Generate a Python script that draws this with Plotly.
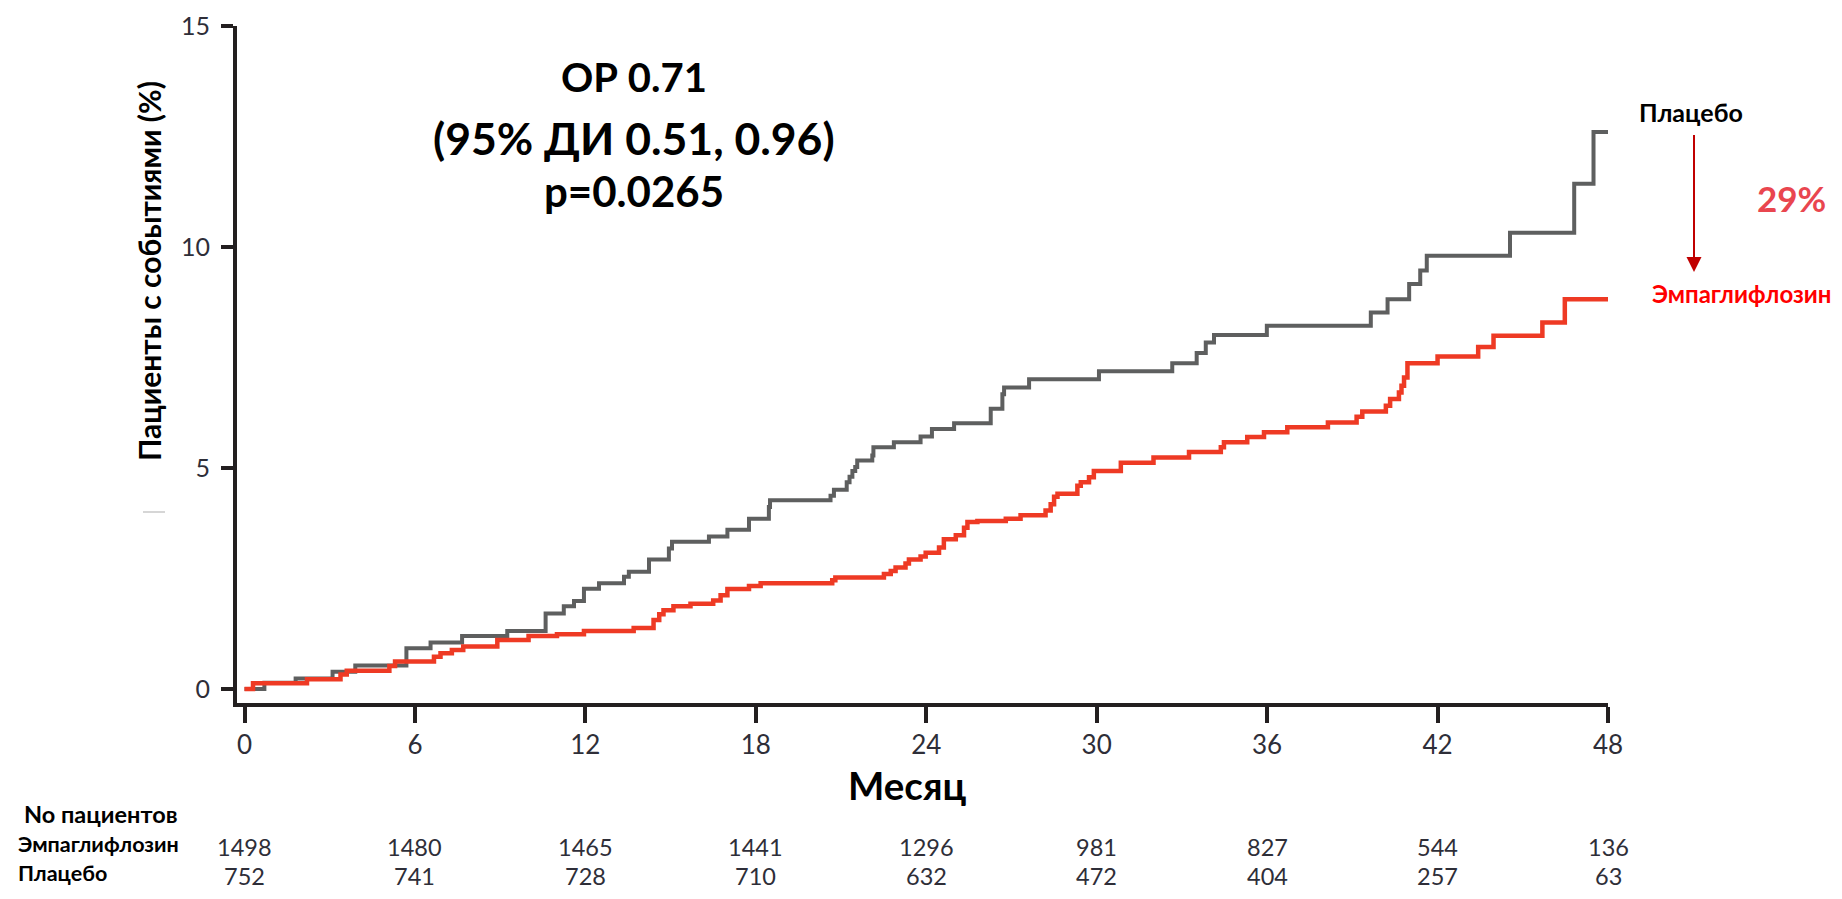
import plotly.graph_objects as go

# ---------------- data ----------------
month_ticks = [0, 6, 12, 18, 24, 30, 36, 42, 48]
y_ticks = [0, 5, 10, 15]

risk_empa = [1498, 1480, 1465, 1441, 1296, 981, 827, 544, 136]
risk_placebo = [752, 741, 728, 710, 632, 472, 404, 257, 63]

placebo_t = [0, 0.7, 1.8, 3.1, 3.9, 5.7, 6.55, 7.66, 9.25, 10.6, 11.24, 11.6, 11.95, 12.48, 13.36,
             13.53, 14.24, 14.94, 15.05, 16.35, 17.0, 17.76, 18.46, 18.5, 20.63, 20.75, 21.2, 21.3,
             21.4, 21.5, 21.57, 22.1, 22.14, 22.86, 23.8, 24.2, 24.98, 26.27, 26.68, 26.74, 27.62,
             30.08, 32.66, 33.52, 33.84, 34.13, 35.99, 39.65, 40.24, 41.0, 41.39, 41.62, 44.55,
             46.81, 47.49, 48.0]
placebo_v = [0, 0.14, 0.24, 0.39, 0.53, 0.92, 1.05, 1.2, 1.31, 1.71, 1.87, 1.99, 2.27, 2.39, 2.54,
             2.65, 2.93, 3.18, 3.33, 3.45, 3.6, 3.85, 4.12, 4.27, 4.37, 4.51, 4.68, 4.8,
             4.93, 5.02, 5.17, 5.28, 5.47, 5.58, 5.71, 5.88, 6.01, 6.34, 6.67, 6.82, 7.01,
             7.19, 7.37, 7.6, 7.84, 8.01, 8.22, 8.52, 8.82, 9.16, 9.47, 9.8, 10.32,
             11.43, 12.6, 12.6]

empa_t = [0, 0.3, 2.2, 3.38, 3.6, 5.1, 5.3, 6.67, 6.9, 7.3, 7.7, 8.9, 10.0, 11.0, 11.95, 13.7,
          14.4, 14.6, 14.75, 15.1, 15.7, 16.5, 16.76, 17.0, 17.76, 18.17, 20.69, 20.8, 22.51,
          22.75, 22.92, 23.27, 23.39, 23.8, 23.98, 24.45, 24.62, 25.04, 25.33, 25.45, 25.8,
          26.8, 27.32, 28.2, 28.38, 28.5, 28.62, 29.32, 29.44, 29.73, 29.9, 30.85, 32.0, 33.25,
          34.37, 34.48, 35.3, 35.89, 36.71, 38.14, 39.15, 39.35, 40.18, 40.33, 40.64, 40.73,
          40.82, 40.94, 42.0, 43.43, 43.97, 45.69, 46.48, 48.0]
empa_v = [0, 0.13, 0.22, 0.33, 0.41, 0.52, 0.62, 0.73, 0.81, 0.88, 0.96, 1.11, 1.2, 1.24, 1.31, 1.38,
          1.56, 1.69, 1.78, 1.87, 1.93, 2.0, 2.12, 2.26, 2.33, 2.39, 2.46, 2.52, 2.6,
          2.67, 2.75, 2.84, 2.93, 3.0, 3.08, 3.2, 3.39, 3.48, 3.65, 3.78, 3.8,
          3.85, 3.93, 4.04, 4.18, 4.35, 4.42, 4.6, 4.68, 4.79, 4.93, 5.12, 5.24, 5.36,
          5.47, 5.58, 5.7, 5.81, 5.92, 6.03, 6.16, 6.28, 6.41, 6.56, 6.71, 6.86,
          7.05, 7.37, 7.52, 7.74, 7.99, 8.29, 8.82, 8.82]

# ---------------- geometry helpers (page pixels -> paper) ----------------
W, H, OFF = 1826, 883, 8
PL, PR, PT, PB = 237, 1608, 26, 703


def px_x(p):
    return (p - PL) / (PR - PL)


def px_y(p):
    return (PB - p) / (PB - PT)


AX = "#231f20"
NUMCOL = "#2e2e38"
BOLD = "Lato"

fig = go.Figure()
fig.add_trace(go.Scatter(x=placebo_t, y=placebo_v, mode="lines", line=dict(color="#5e5f5f", width=4, shape="hv"),
                         showlegend=False, hoverinfo="skip"))
fig.add_trace(go.Scatter(x=empa_t, y=empa_v, mode="lines", line=dict(color="#ee3a24", width=4.5, shape="hv"),
                         showlegend=False, hoverinfo="skip"))

fig.update_layout(
    width=W, height=H,
    margin=dict(l=PL - OFF, r=W + OFF - PR, t=PT - OFF, b=H + OFF - PB, autoexpand=False),
    paper_bgcolor="white", plot_bgcolor="white",
    xaxis=dict(range=[-0.264, 48], tickvals=month_ticks, ticks="outside", ticklen=16, tickwidth=4,
               tickcolor=AX, showline=True, linewidth=4, linecolor=AX, showgrid=False, zeroline=False,
               automargin=False,
               tickfont=dict(family="Lato", size=26, color=NUMCOL), ticklabelstandoff=0),
    yaxis=dict(range=[-0.317, 15], tickvals=y_ticks, ticks="outside", ticklen=12, tickwidth=4,
               tickcolor=AX, showline=True, linewidth=4, linecolor=AX, showgrid=False, zeroline=False,
               automargin=False,
               tickfont=dict(family="Lato", size=25, color=NUMCOL), ticklabelstandoff=6),
)

ann = []
# axis titles
ann.append(dict(text="<b>Пациенты с событиями (%)</b>", x=px_x(149), y=px_y(271), xref="paper", yref="paper",
                textangle=-90, showarrow=False, font=dict(family=BOLD, size=30, color="black"),
                xanchor="center", yanchor="middle"))
ann.append(dict(text="<b>Месяц</b>", x=px_x(907), y=px_y(785), xref="paper", yref="paper", showarrow=False,
                font=dict(family=BOLD, size=38.5, color="black"), xanchor="center", yanchor="middle"))
# statistics block
for txt, yy, fs in [("ОР 0.71", 77, 40), ("(95% ДИ 0.51, 0.96)", 137, 44.5), ("p=0.0265", 191, 42)]:
    ann.append(dict(text="<b>" + txt + "</b>", x=px_x(634), y=px_y(yy), xref="paper", yref="paper",
                    showarrow=False, font=dict(family=BOLD, size=fs, color="black"),
                    xanchor="center", yanchor="middle"))
# right labels
ann.append(dict(text="<b>Плацебо</b>", x=px_x(1637), y=px_y(112), xref="paper", yref="paper", showarrow=False,
                font=dict(family=BOLD, size=25, color="black"), xanchor="left", yanchor="middle"))
ann.append(dict(text="<b>Эмпаглифлозин</b>", x=px_x(1650), y=px_y(293), xref="paper", yref="paper",
                showarrow=False, font=dict(family=BOLD, size=24, color="#ff0000"), xanchor="left",
                yanchor="middle"))
ann.append(dict(text="<b>29%</b>", x=px_x(1791), y=px_y(198), xref="paper", yref="paper", showarrow=False,
                font=dict(family=BOLD, size=35, color="#e9464f"), xanchor="center", yanchor="middle"))
# number at risk labels
for txt, xx, yy, fs in [("No пациентов", 23, 814, 23.5), ("Эмпаглифлозин", 17, 844, 21.5),
                        ("Плацебо", 17, 873, 21.5)]:
    ann.append(dict(text="<b>" + txt + "</b>", x=px_x(xx), y=px_y(yy),
                    xref="paper", yref="paper", showarrow=False,
                    font=dict(family=BOLD, size=fs, color="black"), xanchor="left", yanchor="middle",
                    borderpad=0))
for m, a, b in zip(month_ticks, risk_empa, risk_placebo):
    ann.append(dict(text=str(a), x=m, y=px_y(847), xref="x", yref="paper", showarrow=False,
                    font=dict(family="Lato", size=23.5, color=NUMCOL), xanchor="center",
                    yanchor="middle", borderpad=0))
    ann.append(dict(text=str(b), x=m, y=px_y(876), xref="x", yref="paper", showarrow=False,
                    font=dict(family="Lato", size=23.5, color=NUMCOL), xanchor="center",
                    yanchor="middle", borderpad=0))
fig.update_layout(annotations=ann)

# arrow (line + head) and small stray mark
shapes = [
    dict(type="line", xref="paper", yref="paper", x0=px_x(1694), x1=px_x(1694), y0=px_y(135), y1=px_y(258),
         line=dict(color="#c00000", width=2)),
    dict(type="path", xref="paper", yref="paper",
         path="M {} {} L {} {} L {} {} Z".format(px_x(1686.5), px_y(257), px_x(1701.5), px_y(257),
                                                 px_x(1694), px_y(272)),
         fillcolor="#c00000", line=dict(color="#c00000", width=0)),
    dict(type="line", xref="paper", yref="paper", x0=px_x(143), x1=px_x(165), y0=px_y(512), y1=px_y(512),
         line=dict(color="#c8c8c8", width=1.5)),
]
fig.update_layout(shapes=shapes)

fig.write_html("out.html")
